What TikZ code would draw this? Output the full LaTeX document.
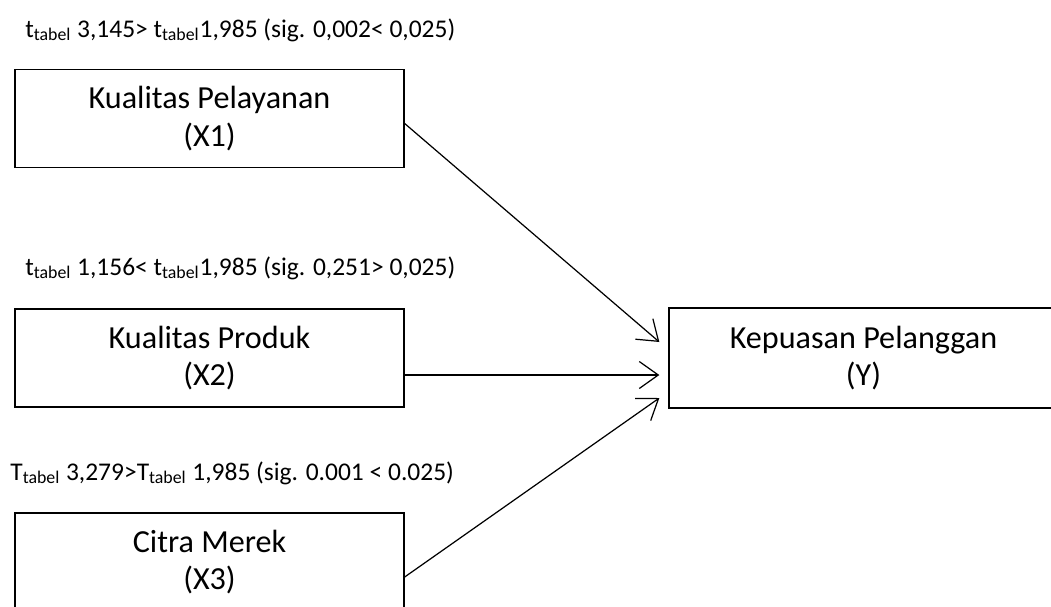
\documentclass[tikz,border=0pt]{standalone}
\usepackage{fontspec}
\setmainfont{Carlito}
\usepackage{xcolor}
\usetikzlibrary{arrows.meta,positioning,calc}
\definecolor{ink}{HTML}{000000}
\tikzset{
  varbox/.style={draw=ink,line width=0.8pt,
                 minimum width=7.78cm,minimum height=1.96cm,
                 align=center,inner sep=0pt,
                 font=\fontsize{18.3}{21.5}\selectfont},
  testlabel/.style={anchor=west,inner sep=0pt,
                    font=\fontsize{14.5}{16}\selectfont},
  patharr/.style={-{Straight Barb[length=3.8mm,width=5.4mm]},line width=0.7pt,color=ink}
}
\newcommand{\ttab}[1]{#1\textsubscript{tabel}}

\begin{document}
\begin{tikzpicture}[x=0.02cm,y=-0.02cm]
  \useasboundingbox (0,0) rectangle (1051,606);
  \clip (0,0) rectangle (1051,606);
  % variables
  \node[varbox] (kualpel) at (209.5,118.5) {Kualitas Pelayanan\\(X1)};
  \node[varbox] (kualprod) at (209.5,358) {Kualitas Produk\\(X2)};
  \node[varbox] (citra) at (209.5,562) {Citra Merek\\(X3)};
  \node[varbox,minimum height=2cm] (kepuasan) at (863.5,358) {Kepuasan Pelanggan\\(Y)};
  % hasil uji t
  \node[testlabel] (uji1) at (25,30) {\ttab{t} 3,145> \ttab{t}1,985 (sig. 0,002< 0,025)};
  \node[testlabel] (uji2) at (25,268) {\ttab{t} 1,156< \ttab{t}1,985 (sig. 0,251> 0,025)};
  \node[testlabel] (uji3) at (10,473) {\ttab{T} 3,279>\ttab{T} 1,985 (sig. 0.001 < 0.025)};
  % pengaruh
  \draw[patharr] ($(kualpel.east)+(0,5)$) -- ($(kepuasan.west)+(-9,-16)$);
  \draw[patharr] ($(kualprod.east)+(0,17)$) -- ($(kepuasan.west)+(-9,17)$);
  \draw[patharr] ($(citra.east)+(0,15)$) -- ($(kepuasan.west)+(-9,40)$);
\end{tikzpicture}
\end{document}
